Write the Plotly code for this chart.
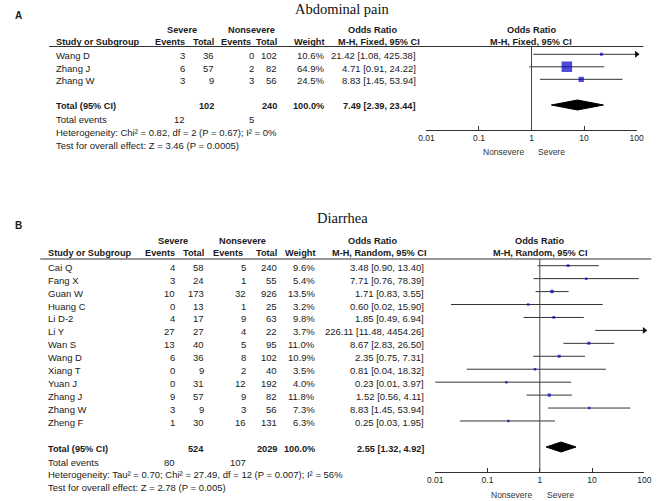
import math
import plotly.graph_objects as go

W, H = 669, 501
SANS = "Arial, Liberation Sans, sans-serif"
SERIF = "Times New Roman, Liberation Serif, serif"
TXT = "#1a1a1a"
FS = 9.5      # regular table text
FB = 9.2      # bold header text

# ---------------- Panel A data ----------------
a_title = "Abdominal pain"
a_studies = ["Wang D", "Zhang J", "Zhang W"]
a_sev_events = [3, 6, 3]
a_sev_total = [36, 57, 9]
a_non_events = [0, 2, 3]
a_non_total = [102, 82, 56]
a_weight = [10.6, 64.9, 24.5]
a_or = [21.42, 4.71, 8.83]
a_lo = [1.08, 0.91, 1.45]
a_hi = [425.38, 24.22, 53.94]
a_total = [102, 240]
a_total_events = [12, 5]
a_pooled = [7.49, 2.39, 23.44]
a_method = "M-H, Fixed, 95% CI"
a_het = "Heterogeneity: Chi² = 0.82, df = 2 (P = 0.67); I² = 0%"
a_test = "Test for overall effect: Z = 3.46 (P = 0.0005)"

# ---------------- Panel B data ----------------
b_title = "Diarrhea"
b_studies = ["Cai Q", "Fang X", "Guan W", "Huang C", "Li D-2", "Li Y", "Wan S",
             "Wang D", "Xiang T", "Yuan J", "Zhang J", "Zhang W", "Zheng F"]
b_sev_events = [4, 3, 10, 0, 4, 27, 13, 6, 0, 0, 9, 3, 1]
b_sev_total = [58, 24, 173, 13, 17, 27, 40, 36, 9, 31, 57, 9, 30]
b_non_events = [5, 1, 32, 1, 9, 4, 5, 8, 2, 12, 9, 3, 16]
b_non_total = [240, 55, 926, 25, 63, 22, 95, 102, 40, 192, 82, 56, 131]
b_weight = [9.6, 5.4, 13.5, 3.2, 9.8, 3.7, 11.0, 10.9, 3.5, 4.0, 11.8, 7.3, 6.3]
b_or = [3.48, 7.71, 1.71, 0.60, 1.85, 226.11, 8.67, 2.35, 0.81, 0.23, 1.52, 8.83, 0.25]
b_lo = [0.90, 0.76, 0.83, 0.02, 0.49, 11.48, 2.83, 0.75, 0.04, 0.01, 0.56, 1.45, 0.03]
b_hi = [13.40, 78.39, 3.55, 15.90, 6.94, 4454.26, 26.50, 7.31, 18.32, 3.97, 4.11, 53.94, 1.95]
b_total = [524, 2029]
b_total_events = [80, 107]
b_pooled = [2.55, 1.32, 4.92]
b_method = "M-H, Random, 95% CI"
b_het = "Heterogeneity: Tau² = 0.70; Chi² = 27.49, df = 12 (P = 0.007); I² = 56%"
b_test = "Test for overall effect: Z = 2.78 (P = 0.005)"

tick_vals = [0.01, 0.1, 1, 10, 100]
tick_text = ["0.01", "0.1", "1", "10", "100"]
XMIN, XMAX = 0.01, 100

# ---------------- layout (pixel positions) ----------------
LAYOUT_A = dict(letter="A", letter_y=16, title_y=8.5, name_x=47, sev_ev=183, sev_tot=213,
                non_ev=254, non_tot=277, w_r=325, or_r=419, sev_c=178, non_c=249,
                hdr1=30, hdr2=42, line_y=46.5, line_x0=42, line_x1=650,
                row0=54.3, step=12.5, total_y=105, ev_y=119, het_y=132, test_y=145,
                axis_y=130, dom=(428, 643), lab_y=152, xa="x", ya="y")
LAYOUT_B = dict(letter="B", letter_y=225, title_y=217.5, name_x=39, sev_ev=173, sev_tot=203,
                non_ev=245, non_tot=277, w_r=316, or_r=428, sev_c=169, non_c=240,
                hdr1=241.5, hdr2=253, line_y=259, line_x0=33, line_x1=658,
                row0=265.7, step=12.94, total_y=447, ev_y=462, het_y=474, test_y=487,
                axis_y=472, dom=(437, 651), lab_y=495, xa="x2", ya="y2")


def px(x):
    return x / W


def py(y):
    return 1 - y / H


annotations = []
shapes = []


def txt(x, y, s, anchor="left", size=FS, bold=False, color=TXT, family=SANS):
    annotations.append(dict(x=px(x), y=py(y), xref="paper", yref="paper",
                            text=f"<b>{s}</b>" if bold else s, showarrow=False,
                            xanchor=anchor, yanchor="middle",
                            font=dict(size=size, color=color, family=family)))


fig = go.Figure()


def panel(L, title, studies, sev_e, sev_t, non_e, non_t, weight, orv, lo, hi,
          total, total_events, pooled, method, het, test):
    xa, ya = L["xa"], L["ya"]
    d0, d1 = L["dom"]
    one_px = (d0 + d1) / 2
    # letter + title
    txt(5, L["letter_y"], L["letter"], size=10, bold=True)
    txt(342.5, L["title_y"], title, anchor="center", size=14.5, family=SERIF, color="#111")
    # headers
    txt(L["sev_c"], L["hdr1"], "Severe", anchor="center", size=FB, bold=True)
    txt(L["non_c"], L["hdr1"], "Nonsevere", anchor="center", size=FB, bold=True)
    txt(373, L["hdr1"], "Odds Ratio", anchor="center", size=FB, bold=True)
    txt(one_px, L["hdr1"], "Odds Ratio", anchor="center", size=FB, bold=True)
    txt(L["name_x"], L["hdr2"], "Study or Subgroup", size=FB, bold=True)
    txt(L["sev_ev"], L["hdr2"], "Events", anchor="right", size=FB, bold=True)
    txt(L["sev_tot"], L["hdr2"], "Total", anchor="right", size=FB, bold=True)
    txt(L["non_ev"] - 3, L["hdr2"], "Events", anchor="right", size=FB, bold=True)
    txt(L["non_tot"], L["hdr2"], "Total", anchor="right", size=FB, bold=True)
    txt(L["w_r"], L["hdr2"], "Weight", anchor="right", size=FB, bold=True)
    txt(380, L["hdr2"], method, anchor="center", size=FB, bold=True)
    txt(one_px, L["hdr2"], method, anchor="center", size=FB, bold=True)
    shapes.append(dict(type="line", xref="paper", yref="paper",
                       x0=px(L["line_x0"]), x1=px(L["line_x1"]),
                       y0=py(L["line_y"]), y1=py(L["line_y"]),
                       line=dict(color="#333", width=1)))
    # study rows
    ys = [L["row0"] + i * L["step"] for i in range(len(studies))]
    for i, s in enumerate(studies):
        ty = ys[i] + 1.5
        txt(L["name_x"], ty, s)
        txt(L["sev_ev"], ty, str(sev_e[i]), anchor="right")
        txt(L["sev_tot"], ty, str(sev_t[i]), anchor="right")
        txt(L["non_ev"], ty, str(non_e[i]), anchor="right")
        txt(L["non_tot"], ty, str(non_t[i]), anchor="right")
        txt(L["w_r"], ty, f"{weight[i]:.1f}%", anchor="right")
        txt(L["or_r"], ty, f"{orv[i]:.2f} [{lo[i]:.2f}, {hi[i]:.2f}]", anchor="right")
    # totals
    ty = L["total_y"] + 1.5
    txt(L["name_x"], ty, "Total (95% CI)", size=FB, bold=True)
    txt(L["sev_tot"], ty, str(total[0]), anchor="right", size=FB, bold=True)
    txt(L["non_tot"], ty, str(total[1]), anchor="right", size=FB, bold=True)
    txt(L["w_r"], ty, "100.0%", anchor="right", size=FB, bold=True)
    txt(L["or_r"], ty, f"{pooled[0]:.2f} [{pooled[1]:.2f}, {pooled[2]:.2f}]",
        anchor="right", size=FB, bold=True)
    txt(L["name_x"], L["ev_y"], "Total events")
    txt(L["sev_ev"], L["ev_y"], str(total_events[0]), anchor="right")
    txt(L["non_ev"], L["ev_y"], str(total_events[1]), anchor="right")
    txt(L["name_x"], L["het_y"], het)
    txt(L["name_x"], L["test_y"], test)
    txt(one_px - 6, L["lab_y"], "Nonsevere", anchor="right", size=8.5, color="#333")
    txt(one_px + 5, L["lab_y"], "Severe", anchor="left", size=8.5, color="#333")

    # whiskers
    wx, wy = [], []
    arx, ary = [], []
    for i in range(len(studies)):
        a = max(lo[i], XMIN)
        b = min(hi[i], XMAX)
        wx += [a, b, None]
        wy += [ys[i], ys[i], None]
        if hi[i] > XMAX:
            arx.append(XMAX)
            ary.append(ys[i])
    fig.add_trace(go.Scatter(x=wx, y=wy, mode="lines", xaxis=xa, yaxis=ya,
                             line=dict(color="#333", width=1), hoverinfo="skip",
                             showlegend=False))
    if arx:
        fig.add_trace(go.Scatter(x=arx, y=ary, mode="markers", xaxis=xa, yaxis=ya,
                                 marker=dict(symbol="triangle-right", size=6, color="#111"),
                                 cliponaxis=False, showlegend=False, hoverinfo="skip"))
    # squares
    sx, sy, ss = [], [], []
    for i in range(len(studies)):
        if XMIN <= orv[i] <= XMAX:
            sx.append(orv[i])
            sy.append(ys[i])
            ss.append(max(2.5, 10.5 * (weight[i] / 64.9) ** 0.7))
    fig.add_trace(go.Scatter(x=sx, y=sy, mode="markers", xaxis=xa, yaxis=ya,
                             marker=dict(symbol="square", size=ss, color="#0000c8",
                                         line=dict(width=0)),
                             showlegend=False, hoverinfo="skip"))
    # diamond
    ty = L["total_y"]
    h = 5
    fig.add_trace(go.Scatter(x=[pooled[1], pooled[0], pooled[2], pooled[0], pooled[1]],
                             y=[ty, ty - h, ty, ty + h, ty], mode="lines", fill="toself",
                             fillcolor="#000", line=dict(color="#000", width=1),
                             xaxis=xa, yaxis=ya, showlegend=False, hoverinfo="skip"))
    # vertical line at 1
    shapes.append(dict(type="line", xref=xa, yref=f"{ya} domain", x0=1, x1=1, y0=0, y1=1,
                       line=dict(color="#444", width=1)))


panel(LAYOUT_A, a_title, a_studies, a_sev_events, a_sev_total, a_non_events, a_non_total,
      a_weight, a_or, a_lo, a_hi, a_total, a_total_events, a_pooled, a_method, a_het, a_test)
panel(LAYOUT_B, b_title, b_studies, b_sev_events, b_sev_total, b_non_events, b_non_total,
      b_weight, b_or, b_lo, b_hi, b_total, b_total_events, b_pooled, b_method, b_het, b_test)


def xaxis_cfg(L):
    d0, d1 = L["dom"]
    return dict(type="log", range=[-2, 2], domain=[px(d0), px(d1)],
                anchor=L["ya"], showline=True, linecolor="#333", linewidth=1,
                ticks="inside", ticklen=4, tickwidth=1, tickcolor="#333",
                tickvals=tick_vals, ticktext=tick_text, showgrid=False, zeroline=False,
                tickfont=dict(size=8.5, family=SANS, color="#222"), fixedrange=True)


def yaxis_cfg(L, top):
    return dict(range=[L["axis_y"], top], domain=[py(L["axis_y"]), py(top)],
                anchor=L["xa"], visible=False, fixedrange=True)


fig.update_layout(
    width=W, height=H, autosize=False,
    margin=dict(l=0, r=0, t=0, b=0),
    paper_bgcolor="white", plot_bgcolor="rgba(0,0,0,0)",
    xaxis=xaxis_cfg(LAYOUT_A),
    yaxis=yaxis_cfg(LAYOUT_A, LAYOUT_A["line_y"]),
    xaxis2=xaxis_cfg(LAYOUT_B),
    yaxis2=yaxis_cfg(LAYOUT_B, LAYOUT_B["line_y"]),
    annotations=annotations,
    shapes=shapes,
    showlegend=False,
)

fig.write_html("out.html", config={"displayModeBar": False},
               post_script="document.body.style.margin='0';document.body.style.overflow='hidden';")
